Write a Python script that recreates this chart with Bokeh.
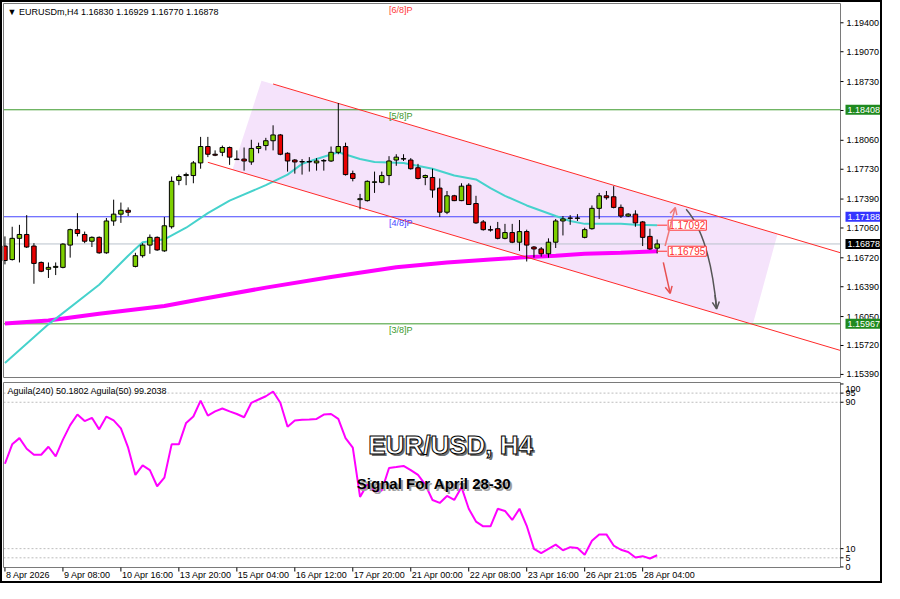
from bokeh.plotting import figure
from bokeh.layouts import column
from bokeh.models import Range1d, Label, Arrow, OpenHead, ColumnDataSource
from bokeh.embed import file_html
from bokeh.resources import INLINE
from bokeh.core.properties import value

FONT = "Liberation Sans"

# ---------------- data ----------------
symbol = "EURUSDm,H4"
date_label_bars = [0, 8, 16, 24, 32, 40, 48, 56, 64, 72, 80, 88]
date_labels = ["8 Apr 2026", "9 Apr 08:00", "10 Apr 16:00", "13 Apr 20:00",
               "15 Apr 04:00", "16 Apr 12:00", "17 Apr 20:00", "21 Apr 00:00",
               "22 Apr 08:00", "23 Apr 16:00", "26 Apr 21:05", "28 Apr 04:00"]

opens = [1.16854, 1.16700, 1.16942, 1.16986, 1.16854, 1.16667, 1.16589, 1.16611, 1.16611, 1.16865,
         1.17041, 1.16986, 1.16909, 1.16953, 1.16777, 1.17140, 1.17218, 1.17262, 1.16622, 1.16744,
         1.16865, 1.16953, 1.16799, 1.17074, 1.17603, 1.17658, 1.17658, 1.17802, 1.17989, 1.17901,
         1.17923, 1.17978, 1.17846, 1.17846, 1.17813, 1.17967, 1.18000, 1.18055, 1.18121, 1.17912,
         1.17835, 1.17813, 1.17818, 1.17802, 1.17824, 1.17824, 1.17923, 1.17989, 1.17680, 1.17383,
         1.17372, 1.17581, 1.17581, 1.17658, 1.17835, 1.17846, 1.17835, 1.17747, 1.17636, 1.17636,
         1.17515, 1.17240, 1.17427, 1.17372, 1.17548, 1.17339, 1.17129, 1.17041, 1.17052, 1.16942,
         1.17008, 1.16898, 1.17019, 1.16843, 1.16821, 1.16766, 1.16898, 1.17140, 1.17174, 1.17170,
         1.16953, 1.17052, 1.17284, 1.17427, 1.17416, 1.17295, 1.17196, 1.17218, 1.17129, 1.16964,
         1.16830]
highs = [1.16964, 1.17074, 1.17096, 1.17207, 1.16887, 1.16678, 1.16667, 1.16667, 1.16887, 1.17052,
         1.17229, 1.17019, 1.16964, 1.16964, 1.17174, 1.17383, 1.17350, 1.17295, 1.16777, 1.16887,
         1.16986, 1.16964, 1.17185, 1.17647, 1.17669, 1.17691, 1.17824, 1.18099, 1.18099, 1.17945,
         1.18000, 1.17989, 1.17945, 1.17978, 1.18066, 1.18033, 1.18088, 1.18231, 1.18132, 1.17923,
         1.17846, 1.17846, 1.17868, 1.17857, 1.17846, 1.17989, 1.18485, 1.18033, 1.17714, 1.17449,
         1.17603, 1.17703, 1.17703, 1.17879, 1.17901, 1.17901, 1.17857, 1.17791, 1.17669, 1.17736,
         1.17625, 1.17482, 1.17438, 1.17570, 1.17570, 1.17427, 1.17151, 1.17085, 1.17129, 1.17107,
         1.17107, 1.17151, 1.17041, 1.16854, 1.16843, 1.16942, 1.17163, 1.17196, 1.17207, 1.17218,
         1.17063, 1.17317, 1.17460, 1.17482, 1.17537, 1.17328, 1.17229, 1.17262, 1.17140, 1.17052,
         1.16929]
lows = [1.16645, 1.16689, 1.16667, 1.16832, 1.16424, 1.16556, 1.16490, 1.16523, 1.16600, 1.16722,
        1.16964, 1.16887, 1.16843, 1.16766, 1.16766, 1.17085, 1.17118, 1.17196, 1.16611, 1.16722,
        1.16766, 1.16799, 1.16788, 1.17052, 1.17548, 1.17548, 1.17570, 1.17736, 1.17868, 1.17879,
        1.17879, 1.17780, 1.17835, 1.17714, 1.17780, 1.17912, 1.17945, 1.17945, 1.17890, 1.17703,
        1.17680, 1.17669, 1.17703, 1.17714, 1.17714, 1.17813, 1.17901, 1.17658, 1.17592, 1.17273,
        1.17361, 1.17460, 1.17570, 1.17548, 1.17769, 1.17824, 1.17725, 1.17614, 1.17548, 1.17405,
        1.17185, 1.17218, 1.17366, 1.17366, 1.17322, 1.17107, 1.17030, 1.17019, 1.16931, 1.16931,
        1.16887, 1.16799, 1.16678, 1.16722, 1.16733, 1.16722, 1.16832, 1.16975, 1.17096, 1.17140,
        1.16942, 1.17041, 1.17163, 1.17383, 1.17284, 1.17174, 1.17185, 1.17074, 1.16854, 1.16810,
        1.16770]
closes = [1.16689, 1.16942, 1.16986, 1.16843, 1.16656, 1.16567, 1.16611, 1.16622, 1.16876, 1.17041,
          1.16997, 1.16909, 1.16953, 1.16777, 1.17140, 1.17218, 1.17262, 1.17240, 1.16744, 1.16865,
          1.16953, 1.16810, 1.17085, 1.17592, 1.17647, 1.17669, 1.17802, 1.17989, 1.17901, 1.17890,
          1.17978, 1.17868, 1.17840, 1.17824, 1.17967, 1.17989, 1.18055, 1.18121, 1.17901, 1.17824,
          1.17813, 1.17818, 1.17813, 1.17824, 1.17830, 1.17923, 1.17989, 1.17669, 1.17625, 1.17394,
          1.17592, 1.17586, 1.17658, 1.17824, 1.17868, 1.17851, 1.17736, 1.17625, 1.17658, 1.17493,
          1.17240, 1.17427, 1.17372, 1.17537, 1.17328, 1.17118, 1.17041, 1.17036, 1.16942, 1.17008,
          1.16898, 1.17019, 1.16865, 1.16821, 1.16766, 1.16898, 1.17140, 1.17163, 1.17170, 1.17174,
          1.17041, 1.17284, 1.17427, 1.17405, 1.17295, 1.17196, 1.17218, 1.17118, 1.16953, 1.16821,
          1.16878]

# moving averages (read at bar positions)
ma_fast_bars = [0, 6, 13, 17, 19, 22, 25, 28, 31, 36, 39, 41, 43, 46, 49, 51, 55, 59, 62, 65,
                67, 69, 72, 76, 78, 80, 85, 87, 90]
ma_fast_vals = [1.15521, 1.15961, 1.16413, 1.16744, 1.16898, 1.16931, 1.17063, 1.17229, 1.17372,
                1.17548, 1.17669, 1.17791, 1.17846, 1.17923, 1.17846, 1.17813, 1.17802, 1.17736,
                1.17658, 1.17614, 1.17515, 1.17427, 1.17317, 1.17196, 1.17140, 1.17107, 1.17107,
                1.17096, 1.17092]
ma_slow_bars = [0, 6, 13, 22, 27, 36, 45, 54, 61, 67, 71, 76, 80, 85, 90]
ma_slow_vals = [1.15972, 1.16005, 1.16082, 1.16171, 1.16248, 1.16380, 1.16501, 1.16612, 1.16667,
                1.16700, 1.16722, 1.16744, 1.16766, 1.16777, 1.16795]

# oscillator pane
aguila = [56.4, 67.0, 70.4, 64.6, 61.3, 61.3, 65.7, 60.4, 69.6, 77.5,
          83.3, 79.7, 81.5, 75.2, 82.2, 80.1, 75.7, 65.2, 50.3, 55.5,
          52.9, 44.1, 48.8, 67.0, 67.0, 78.7, 82.2, 90.9, 82.7, 85.0,
          86.6, 85.0, 83.6, 81.8, 89.7, 91.5, 93.3, 95.9, 89.7, 76.6,
          80.1, 80.4, 80.6, 80.9, 83.3, 83.6, 80.9, 70.4, 65.2, 38.3,
          45.0, 41.2, 41.8, 54.1, 54.6, 55.2, 52.9, 50.3, 45.0, 36.6,
          35.0, 38.8, 36.6, 43.6, 31.8, 24.8, 22.2, 22.2, 31.8, 30.6,
          25.7, 31.8, 22.5, 9.9, 7.6, 9.9, 12.2, 9.1, 10.8, 10.4,
          6.7, 14.3, 17.8, 17.8, 11.7, 9.4, 8.2, 5.2, 5.9, 4.6,
          6.4]
aguila_header = "Aguila(240) 50.1802  Aguila(50) 99.2038"
aguila_levels = [95, 90, 10, 5]
aguila_ticks = [100, 95, 90, 10, 5, 0]

# Murrey math levels
murrey_names = ["[3/8]P", "[4/8]P", "[5/8]P", "[6/8]P"]
murrey_levels = [1.15967, 1.17188, 1.18408, 1.19629]
murrey_colors = ["#3c9a2c", "#4646ff", "#3c9a2c", "#ff3a3a"]
murrey_box_colors = ["#1f8a1f", "#3535ff", "#1f8a1f", None]

price_ticks = [1.19400, 1.19070, 1.18730, 1.18400, 1.18060, 1.17730, 1.17390,
               1.17060, 1.16720, 1.16390, 1.16050, 1.15720, 1.15390]

# drawn channel (anchor bar, price) and common slope per bar
channel_upper = (37, 1.18702)
channel_lower = (28, 1.17809)
channel_slope = -0.0002458
shade_bars = [35.4, 31.4, 103.2, 106.6]
shade_prices = [1.18738, 1.17725, 1.15961, 1.16990]

# scenario arrows (bar, price)
up_arrow = ((91.1, 1.16854), (92.5, 1.17295))
down_arrow = ((90.85, 1.16667), (91.8, 1.16314))
curve_arrow = ((94.0, 1.17273), (97.3, 1.16959), (98.2, 1.16137))  # start, control, end

title_text = "EUR/USD, H4"
subtitle_text = "Signal For April 28-30"

# ---------------- geometry (pixels) ----------------
FW = 878                 # frame width of both panes (chart + price scale)
CH_L, CH_R = 1, 838      # chart area left/right pixel inside frame
BAR_L, BAR_R = -0.2, 115.3
bpp = (BAR_R - BAR_L) / (CH_R - CH_L)
xr = Range1d(BAR_L - CH_L * bpp, BAR_R + (FW - CH_R) * bpp)

H1 = 379                 # main pane frame height
P_TOP, P_BOT = 1.19620, 1.15355
T1, B1 = 1, 375          # chart top/bottom pixel (from top)
ppp = (P_TOP - P_BOT) / (B1 - T1)
yr1 = Range1d(P_BOT - (H1 - B1) * ppp, P_TOP + T1 * ppp)

H2 = 200                 # oscillator frame height
V_TOP, V_BOT = 100.8, -0.3
T2, B2 = 1, 186
vpp = (V_TOP - V_BOT) / (B2 - T2)
yr2 = Range1d(V_BOT - (H2 - B2) * vpp, V_TOP + T2 * vpp)

FRAME_GRAY = "#7a7a7a"


def fig(h, yr):
    f = figure(frame_width=FW, frame_height=h, x_range=xr, y_range=yr,
               output_backend="svg", toolbar_location=None, x_axis_location=None,
               y_axis_location=None, min_border_left=0, min_border_right=0,
               min_border_top=0, min_border_bottom=0, background_fill_color="white",
               border_fill_color="white", outline_line_color=None)
    f.xgrid.visible = False
    f.ygrid.visible = False
    return f


n = len(opens)
bars = list(range(n))

# ================= main pane =================
p1 = fig(H1, yr1)

# shaded channel
p1.patch(shade_bars, shade_prices, fill_color="#f5e3fb", line_color=None)

# horizontal levels (lines only where inside the chart; labels always)
for lvl, col, name in zip(murrey_levels, murrey_colors, murrey_names):
    if P_BOT <= lvl <= P_TOP:
        p1.segment(x0=BAR_L, y0=lvl, x1=BAR_R, y1=lvl, line_color=col, line_width=1)
    p1.add_layout(Label(x=53, y=min(lvl, P_TOP), y_offset=-1, text=name, text_color=col,
                        text_font=FONT, text_font_size="9px", text_baseline="top"))
p1.segment(x0=BAR_L, y0=closes[-1], x1=BAR_R, y1=closes[-1], line_color="#b9c2cc", line_width=1)

# moving averages
p1.line(ma_slow_bars, ma_slow_vals, line_color="#ff00ff", line_width=4)
p1.line(ma_fast_bars, ma_fast_vals, line_color="#46d2cc", line_width=2)

# channel lines (rays to chart edge)
for (b0, pr0) in (channel_upper, channel_lower):
    p1.segment(x0=b0, y0=pr0, x1=BAR_R, y1=pr0 + channel_slope * (BAR_R - b0),
               line_color="#ff2a2a", line_width=1)

# candles
colors = ["#7dcf00" if c >= o else "#e80000" for o, c in zip(opens, closes)]
src = ColumnDataSource(dict(x=bars, h=highs, l=lows,
                            top=[max(o, c) for o, c in zip(opens, closes)],
                            bot=[min(o, c) for o, c in zip(opens, closes)], col=colors))
p1.segment(x0="x", y0="h", x1="x", y1="l", source=src, line_color="black", line_width=1)
p1.vbar(x="x", width=0.62, top="top", bottom="bot", source=src, fill_color="col",
        line_color="black", line_width=1)

# MA end price labels
last = bars[-1]
for val in (ma_fast_vals[-1], ma_slow_vals[-1]):
    p1.segment(x0=last, y0=val, x1=last + 10 * bpp, y1=val, line_color="#ff3030", line_width=1)
    p1.add_layout(Label(x=last, y=val, x_offset=11, text=f"{val:.5f}", text_color="#ff3030",
                        text_font=FONT, text_font_size="10px", text_baseline="middle",
                        background_fill_color="white", border_line_color="#ff3030",
                        padding=1))

# scenario arrows
(ux0, uy0), (ux1, uy1) = up_arrow
p1.add_layout(Arrow(end=OpenHead(size=7, line_color="#f07878", line_width=1.5),
                    x_start=ux0, y_start=uy0, x_end=ux1, y_end=uy1,
                    line_color="#f07878", line_width=1.5))
(dx0, dy0), (dx1, dy1) = down_arrow
p1.add_layout(Arrow(end=OpenHead(size=7, line_color="#e85050", line_width=1.5),
                    x_start=dx0, y_start=dy0, x_end=dx1, y_end=dy1,
                    line_color="#e85050", line_width=1.5))
(cx0, cy0), (ccx, ccy), (cx1, cy1) = curve_arrow
p1.quadratic(x0=[cx0], y0=[cy0], x1=[cx1], y1=[cy1], cx=[ccx], cy=[ccy],
             line_color="#555555", line_width=1.5)
t = 0.9
bx = (1 - t) ** 2 * cx0 + 2 * t * (1 - t) * ccx + t ** 2 * cx1
by = (1 - t) ** 2 * cy0 + 2 * t * (1 - t) * ccy + t ** 2 * cy1
p1.add_layout(Arrow(end=OpenHead(size=7, line_color="#555555", line_width=1.5),
                    x_start=bx, y_start=by, x_end=cx1, y_end=cy1,
                    line_color="#555555", line_width=1.5))

# chart border
p1.quad(left=BAR_L, right=BAR_R, bottom=P_BOT, top=P_TOP, fill_color=None,
        line_color=FRAME_GRAY, line_width=1)

# price scale
p1.segment(x0=[BAR_R] * len(price_ticks), y0=price_ticks,
           x1=[BAR_R + 3 * bpp] * len(price_ticks), y1=price_ticks, line_color="black")
p1.text(x=[BAR_R] * len(price_ticks), y=price_ticks, text=[f"{v:.5f}" for v in price_ticks],
        x_offset=6, text_font=value(FONT), text_font_size="9px", text_color="black",
        text_baseline="middle", text_align="left")

# highlighted price boxes
for lvl, bc in zip(murrey_levels + [closes[-1]], murrey_box_colors + ["black"]):
    if bc is None:
        continue
    p1.add_layout(Label(x=BAR_R, y=lvl, x_offset=5, text=f"{lvl:.5f}", text_color="white",
                        text_font=FONT, text_font_size="9px", text_baseline="middle",
                        background_fill_color=bc, padding=2, level="overlay"))

# header
header = f"\u25bc {symbol}  {opens[-1]:.5f} {highs[-1]:.5f} {lows[-1]:.5f} {closes[-1]:.5f}"
p1.add_layout(Label(x=5, y=H1 - 9, x_units="screen", y_units="screen", text=header,
                    text_font=FONT, text_font_size="9px", text_baseline="middle",
                    text_color="black"))

# ================= oscillator pane =================
p2 = fig(H2, yr2)

for lv in aguila_levels:
    p2.segment(x0=BAR_L, y0=lv, x1=BAR_R, y1=lv, line_color="#bdbdbd",
               line_dash="2 2", line_width=1)
p2.line(bars, aguila, line_color="#ff00ff", line_width=2)

p2.quad(left=BAR_L, right=BAR_R, bottom=V_BOT, top=V_TOP, fill_color=None,
        line_color=FRAME_GRAY, line_width=1)

# oscillator scale (top label nudged inside the pane)
p2.segment(x0=[BAR_R] * len(aguila_ticks), y0=aguila_ticks,
           x1=[BAR_R + 3 * bpp] * len(aguila_ticks), y1=aguila_ticks, line_color="black")
osc_src = ColumnDataSource(dict(x=[BAR_R] * len(aguila_ticks), y=aguila_ticks,
                                t=[str(v) for v in aguila_ticks],
                                dy=[5 if v == max(aguila_ticks) else 0 for v in aguila_ticks]))
p2.text(x="x", y="y", text="t", y_offset="dy", x_offset=5, source=osc_src,
        text_font=value(FONT), text_font_size="9px", text_color="black",
        text_baseline="middle", text_align="left")

# time scale
p2.segment(x0=date_label_bars, y0=[V_BOT] * len(date_label_bars), x1=date_label_bars,
           y1=[V_BOT - 4 * vpp] * len(date_label_bars), line_color="black")
p2.text(x=date_label_bars, y=[V_BOT] * len(date_label_bars), text=date_labels,
        x_offset=1, y_offset=2, text_font=value(FONT), text_font_size="9px",
        text_color="black", text_baseline="top", text_align="left")

p2.add_layout(Label(x=5, y=H2 - 9, x_units="screen", y_units="screen", text=aguila_header,
                    text_font=FONT, text_font_size="9px", text_baseline="middle",
                    text_color="black"))

has_outline = "text_outline_color" in Label.properties()


def big_label(txt, x, y, size, color, shadow, outline=None):
    p2.add_layout(Label(x=x, y=y, x_offset=2, y_offset=-2, text=txt, text_font=FONT,
                        text_font_size=size, text_font_style="bold", text_color=shadow,
                        text_align="center", text_baseline="middle"))
    kw = {}
    if outline and has_outline:
        kw["text_outline_color"] = outline
    p2.add_layout(Label(x=x, y=y, text=txt, text_font=FONT, text_font_size=size,
                        text_font_style="bold", text_color=color, text_align="center",
                        text_baseline="middle", **kw))


big_label(title_text, 61.5, 66.6, "26px", "white", "#6f6f6f", outline="black")
big_label(subtitle_text, 59.2, 45.4, "15px", "black", "#a0a0a0")

layout = column(p1, p2, spacing=0, styles={"border": "2px solid black", "background": "white"})

open("out.html", "w").write(file_html(layout, INLINE))
